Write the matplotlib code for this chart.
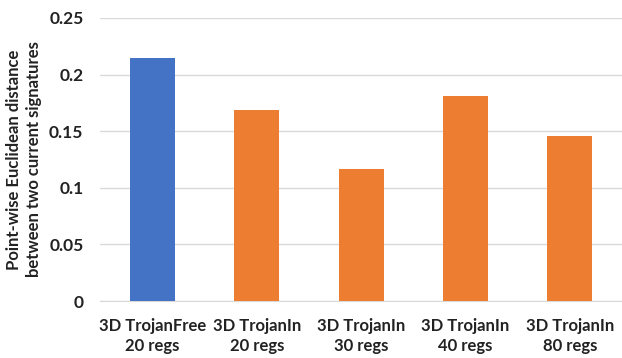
import matplotlib
matplotlib.use("Agg")
import matplotlib.pyplot as plt

# distance between the two current signatures for each design
labels = ["3D TrojanFree\n20 regs", "3D TrojanIn\n20 regs", "3D TrojanIn\n30 regs",
          "3D TrojanIn\n40 regs", "3D TrojanIn\n80 regs"]
distance = [0.215, 0.169, 0.117, 0.181, 0.146]
colors = ["#4472C4", "#ED7D31", "#ED7D31", "#ED7D31", "#ED7D31"]

plt.rcParams["font.family"] = ["Lato", "DejaVu Sans"]
plt.rcParams["font.weight"] = "bold"

fig = plt.figure(figsize=(6.22, 3.58), dpi=100)
ax = fig.add_axes([0.161, 0.159, 0.839, 0.791])

x = range(len(labels))
ax.bar(x, distance, width=0.43, color=colors, zorder=3)

ax.set_xlim(-0.5, len(labels) - 0.5)
ax.set_ylim(0, 0.25)
ax.set_yticks([0, 0.05, 0.1, 0.15, 0.2, 0.25])
ax.set_yticklabels(["0", "0.05", "0.1", "0.15", "0.2", "0.25"])
ax.set_xticks(list(x))
ax.set_xticklabels(labels, linespacing=1.35)
ax.tick_params(axis="both", length=0, labelsize=12, colors="#222222")
ax.tick_params(axis="y", labelsize=12.5, pad=12)
ax.tick_params(axis="x", pad=12)

ax.grid(axis="y", color="#d9d9d9", linewidth=1, zorder=0)
for side in ["top", "right", "left"]:
    ax.spines[side].set_visible(False)
ax.spines["bottom"].set_color("#d9d9d9")

ax.set_ylabel("Point-wise Euclidean distance\nbetween two current signatures",
              fontsize=12, fontweight="bold", color="#222222", labelpad=5,
              linespacing=1.3)

fig.savefig("out.png", dpi=100)
